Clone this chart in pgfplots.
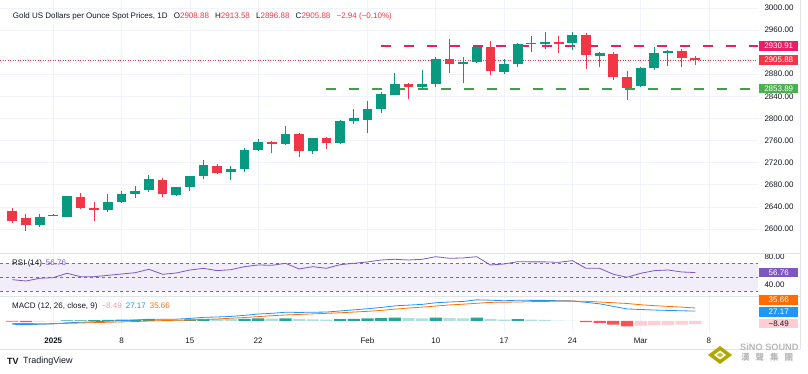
\documentclass[border=0pt]{standalone}
\usepackage{fontspec}
\setmainfont{Liberation Sans}
\newfontfamily\cjk{Noto Sans CJK TC}
\usepackage{pgfplots}
\usepackage{pgfplotstable}
\pgfplotsset{compat=1.18}
\definecolor{up}{HTML}{089981}
\definecolor{down}{HTML}{F23645}
\definecolor{txt}{HTML}{131722}
\definecolor{gridc}{HTML}{F0F3FA}
\definecolor{sepc}{HTML}{E0E3EB}
\definecolor{magc}{HTML}{E91E63}
\definecolor{grnc}{HTML}{4CAF50}
\definecolor{rsic}{HTML}{7E57C2}
\definecolor{rsiband}{HTML}{F2EEF9}
\definecolor{macdc}{HTML}{2196F3}
\definecolor{sigc}{HTML}{FF6D00}
\definecolor{hdt}{HTML}{26A69A}
\definecolor{hlt}{HTML}{B2DFDB}
\definecolor{hdr}{HTML}{FF5252}
\definecolor{hlr}{HTML}{FFCDD2}
\definecolor{hlrt}{HTML}{E8A3AB}

\pgfplotstableread{
i o h l c
2 2606.7 2627.1 2603.0 2622.2
3 2625.0 2626.5 2624.0 2625.8
4 2622.2 2660.0 2621.0 2659.2
7 2634.4 2663.3 2631.3 2649.4
8 2648.3 2669.3 2646.5 2662.8
9 2663.3 2677.8 2656.0 2668.7
10 2670.5 2697.1 2666.9 2689.9
12 2661.5 2676.0 2659.7 2675.4
13 2676.5 2696.5 2669.3 2695.9
14 2696.4 2724.8 2689.9 2715.2
16 2702.6 2714.0 2688.6 2708.5
17 2708.0 2746.0 2703.1 2742.9
18 2742.9 2763.4 2742.0 2756.8
20 2753.8 2786.3 2752.5 2771.3
22 2741.6 2765.0 2735.7 2764.1
24 2755.0 2797.0 2753.8 2795.9
25 2794.8 2817.0 2790.5 2800.8
26 2797.2 2831.0 2773.7 2816.5
27 2817.1 2847.3 2809.3 2844.8
28 2843.0 2882.8 2841.9 2862.8
30 2857.4 2887.6 2851.4 2861.8
31 2862.3 2911.7 2856.3 2908.0
33 2898.0 2910.6 2864.7 2902.1
34 2901.5 2931.0 2900.0 2929.2
36 2883.5 2907.5 2879.8 2898.5
37 2898.0 2936.5 2893.6 2934.1
38 2934.0 2949.1 2920.2 2936.5
39 2935.2 2956.4 2925.6 2938.3
41 2937.0 2956.9 2923.8 2951.0
43 2913.5 2919.6 2892.5 2917.8
46 2859.2 2893.6 2857.4 2890.7
47 2890.7 2928.7 2887.6 2917.8
48 2918.4 2923.8 2895.4 2922.5
}\updata

\pgfplotstableread{
i o h l c
0 2633.1 2637.2 2611.5 2614.5
1 2619.9 2627.1 2596.4 2607.2
5 2658.4 2664.6 2637.0 2638.0
6 2638.0 2648.8 2614.0 2634.4
11 2688.6 2692.3 2657.3 2662.8
15 2714.5 2717.6 2700.0 2700.8
19 2757.4 2758.6 2737.0 2754.3
21 2771.3 2773.1 2730.8 2741.6
23 2764.6 2766.0 2745.3 2755.6
29 2862.8 2864.0 2835.7 2857.4
32 2908.0 2943.7 2882.8 2898.5
35 2929.8 2940.0 2878.6 2885.8
40 2938.3 2949.7 2918.9 2935.2
42 2951.5 2954.0 2890.0 2914.2
44 2917.1 2920.7 2869.0 2874.4
45 2874.4 2886.4 2833.4 2855.0
49 2922.5 2926.2 2892.5 2909.9
50 2908.88 2913.58 2896.88 2905.88
}\downdata

\pgfplotstableread{
i rsi
0 46.6
1 44.7
2 48.6
3 49.5
4 55.7
5 50.9
6 50.9
7 52.8
8 54.7
9 56.6
10 61.4
11 54.3
12 56.1
13 60.4
14 62.8
15 59.5
16 60.9
17 65.2
18 67.6
19 67.1
20 70.0
21 61.9
22 65.2
23 62.8
24 68.0
25 70.0
26 71.9
27 74.7
28 75.7
29 74.7
30 75.7
31 79.4
32 77.1
33 77.6
34 79.4
35 67.6
36 69.0
37 72.3
38 72.0
39 72.0
40 71.4
41 73.8
42 62.8
43 62.8
44 54.3
45 50.0
46 55.7
47 59.5
48 60.4
49 57.6
50 56.76
}\rsidata

\pgfplotstableread{
i macd sig
0 -9 -7
1 -10 -7
2 -9 -7.5
3 -8 -7.2
4 -5 -6.5
5 -3.5 -5.5
6 -2 -4.5
7 -0.5 -3.5
8 1 -2.5
9 2.5 -1.5
10 5 0
11 4.5 1
12 5 2
13 7 2.5
14 10 4
15 11 5.5
16 12.5 7.5
17 15.5 9.5
18 19 12
19 21 14.5
20 24 16.5
21 23.5 18
22 24 19.5
23 24.5 21
24 27.5 22.5
25 30.5 24.5
26 33.5 26.5
27 37 29
28 41.5 32.5
29 43.5 35.5
30 45.5 38
31 50 41
32 52 44
33 53.5 46
34 58 48.5
35 57 51
36 55.5 51.5
37 57 52
38 56.5 53
39 56.5 53.5
40 55.5 54.5
41 55 54.5
42 51 54
43 47 52
44 40 50
45 33 48
46 31.5 44.5
47 30 42
48 29 40
49 28 38
50 27.17 35.66
}\macddata

\pgfplotsset{
  panel/.style={
    scale only axis, width=758pt, anchor=south west,
    xmin=-0.9, xmax=54.59,
    axis line style={draw=none},
    tick style={draw=none},
    xtick={3,8,13,18,26,31,36,41,46,51},
    xmajorgrids, major grid style={color=gridc, line width=0.7pt},
    ticklabel style={font=\fontsize{8}{9}\selectfont, text=txt},
    /pgf/number format/assume math mode=true,
    yticklabel pos=right,
    yticklabel style={xshift=3pt},
    yticklabel={\pgfmathprintnumber[fixed, fixed zerofill, precision=2, 1000 sep={}]{\tick}},
  },
  candle/.style 2 args={draw=none, mark=none, error bars/.cd, y dir=plus, y explicit, error mark=none,
    error bar style={line width=#1, color=#2, solid}},
}

\begin{document}
\begin{tikzpicture}
\useasboundingbox[fill=white] (0pt,0pt) rectangle (808pt,374pt);

% ---------- main price panel ----------
\begin{axis}[panel, at={(0pt,122pt)}, height=252pt,
  ymin=2558.4, ymax=3014.3,
  ytick={2600,2640,2680,2720,2760,2800,2840,2880,2960,3000},
  ymajorgrids, xticklabels={}]
  % last price dotted line
  \addplot[down, line width=0.7pt, dash pattern=on 1pt off 1.5pt] coordinates {(-0.9,2905.88) (54.59,2905.88)};
  % levels
  \addplot[magc, line width=1.8pt, dash pattern=on 10pt off 13pt] coordinates {(27,2930.91) (54.59,2930.91)};
  \addplot[grnc!90!black, line width=1.8pt, dash pattern=on 10pt off 13pt] coordinates {(23,2853.89) (54.59,2853.89)};
  % wicks
  \addplot[candle={1pt}{up}] table[x=i, y=l, y error plus expr={\thisrow{h}-\thisrow{l}}] {\updata};
  \addplot[candle={1pt}{down}] table[x=i, y=l, y error plus expr={\thisrow{h}-\thisrow{l}}] {\downdata};
  % bodies
  \addplot[candle={9.8pt}{up}] table[x=i, y=o, y error plus expr={\thisrow{c}-\thisrow{o}}] {\updata};
  \addplot[candle={9.8pt}{down}] table[x=i, y=c, y error plus expr={\thisrow{o}-\thisrow{c}}] {\downdata};
  \coordinate (lvlA) at (axis cs:54.59,2930.91);
  \coordinate (lvlB) at (axis cs:54.59,2905.88);
  \coordinate (lvlC) at (axis cs:54.59,2853.89);
\end{axis}

% ---------- RSI panel ----------
\begin{axis}[panel, at={(0pt,78pt)}, height=43pt,
  ymin=23.3, ymax=84.7, ytick={40,80}, xticklabels={}]
  \addplot[fill=rsiband, draw=none] coordinates {(-0.9,30) (54.59,30) (54.59,70) (-0.9,70)} -- cycle;
  \addplot[color=black!55, line width=0.6pt, dash pattern=on 3pt off 3pt] coordinates {(-0.9,70) (54.59,70)};
  \addplot[color=black!55, line width=0.6pt, dash pattern=on 3pt off 3pt] coordinates {(-0.9,50) (54.59,50)};
  \addplot[color=black!55, line width=0.6pt, dash pattern=on 3pt off 3pt] coordinates {(-0.9,30) (54.59,30)};
  \addplot[rsic, line width=0.8pt] table[x=i, y=rsi] {\rsidata};
  \coordinate (rsiL) at (axis cs:54.59,56.76);
\end{axis}

% ---------- MACD panel ----------
\begin{axis}[panel, at={(0pt,41pt)}, height=37pt,
  ymin=-32.9, ymax=68.5, ytick=\empty,
  xticklabels={\textbf{2025},8,15,22,Feb,10,17,24,Mar,8},
  xticklabel style={yshift=-1pt}]
  \addplot[ybar, bar width=12.2pt, bar shift=0pt, fill=hdt, draw=none] coordinates {
    (4,1.5) (5,2) (6,2.5) (7,3) (8,3.5) (9,4) (10,5) (13,4.5) (14,6) (17,6) (18,7) (20,7.5)
    (24,5) (25,6) (26,7) (27,8) (28,9) (31,9) (34,9.5) (37,5)};
  \addplot[ybar, bar width=12.2pt, bar shift=0pt, fill=hlt, draw=none] coordinates {
    (11,3.5) (12,3) (15,5.5) (16,5) (19,6.5) (21,5.5) (22,4.5) (23,3.5) (29,8) (30,7.5)
    (32,8) (33,7.5) (35,6) (36,4) (38,3.5) (39,3) (40,1) (41,0.5)};
  \addplot[ybar, bar width=12.2pt, bar shift=0pt, fill=hdr, draw=none] coordinates {
    (0,-2) (1,-3) (42,-3) (43,-5) (44,-10) (45,-15)};
  \addplot[ybar, bar width=12.2pt, bar shift=0pt, fill=hlr, draw=none] coordinates {
    (2,-1.5) (3,-0.8) (46,-13) (47,-12) (48,-11) (49,-10) (50,-8.49)};
  \addplot[macdc, line width=0.8pt] table[x=i, y=macd] {\macddata};
  \addplot[sigc, line width=0.8pt] table[x=i, y=sig] {\macddata};
\end{axis}

% separators
\draw[sepc, line width=0.7pt] (0pt,121pt) -- (800pt,121pt);
\draw[sepc, line width=0.7pt] (0pt,78pt) -- (800pt,78pt);
\draw[sepc, line width=0.7pt] (0pt,25pt) -- (800pt,25pt);
\draw[sepc, line width=0.7pt] (800pt,25pt) -- (800pt,374pt);

% price scale boxes
\tikzset{pbox/.style={anchor=west, inner sep=0pt, minimum width=39pt, minimum height=9.5pt,
  font=\fontsize{8}{9}\selectfont, text=white}}
\node[pbox, fill=magc] at ([xshift=1pt]lvlA) {2930.91};
\node[pbox, fill=down] at ([xshift=1pt]lvlB) {2905.88};
\node[pbox, fill=grnc] at ([xshift=1pt]lvlC) {2853.89};
\node[pbox, fill=rsic] at ([xshift=1pt]rsiL) {56.76};
\node[pbox, fill=sigc] at (759pt,374pt-300pt) {35.66};
\node[pbox, fill=macdc] at (759pt,374pt-312pt) {27.17};
\node[pbox, fill=hlr, text=txt] at (759pt,374pt-323.6pt) {−8.49};

% title
\node[anchor=west, inner sep=0pt, font=\fontsize{8}{9}\selectfont, text=txt] at (12.7pt,374pt-16.7pt)
  {Gold US Dollars per Ounce Spot Prices, 1D\hspace{4pt} O\textcolor{down}{2908.88}\hspace{4pt} H\textcolor{down}{2913.58}\hspace{4pt} L\textcolor{down}{2896.88}\hspace{4pt} C\textcolor{down}{2905.88}\hspace{4pt} \textcolor{down}{−2.94 (−0.10\%)}};
% indicator labels
\node[anchor=west, inner sep=0pt, font=\fontsize{8}{9}\selectfont, text=txt] at (12pt,374pt-263.3pt)
  {RSI (14)\hspace{4pt}\textcolor{rsic}{56.76}};
\node[anchor=west, inner sep=0pt, font=\fontsize{8}{9}\selectfont, text=txt] at (12pt,374pt-306.7pt)
  {MACD (12, 26, close, 9)\hspace{4pt}\textcolor{hlrt}{−8.49}\hspace{4pt}\textcolor{macdc}{27.17}\hspace{4pt}\textcolor{sigc}{35.66}};

% TradingView logo
\node[anchor=west, inner sep=0pt, font=\fontsize{9}{10}\selectfont\bfseries, text=txt] at (7pt,13pt) {TV};
\node[anchor=west, inner sep=0pt, font=\fontsize{9}{10}\selectfont, text=txt] at (23pt,13pt) {TradingView};

% watermark
\fill[olive!70!yellow] (720pt,374pt-346pt) -- (732pt,374pt-355pt) -- (720pt,374pt-364pt) -- (708pt,374pt-355pt) -- cycle;
\fill[white] (720pt,374pt-350.5pt) -- (726pt,374pt-355pt) -- (720pt,374pt-359.5pt) -- (714pt,374pt-355pt) -- cycle;
\fill[olive!60!yellow!80] (720pt,374pt-352.5pt) -- (723.3pt,374pt-355pt) -- (720pt,374pt-357.5pt) -- (716.7pt,374pt-355pt) -- cycle;
\node[anchor=west, inner sep=0pt, font=\fontsize{9.2}{10}\selectfont\bfseries, text=black!28] at (740pt,374pt-347.7pt) {SiNO SOUND};
\node[anchor=west, inner sep=0pt, font=\cjk\fontsize{8.5}{9}\selectfont\bfseries, text=black!28] at (741pt,374pt-357.5pt) {漢\hspace{6pt}聲\hspace{6pt}集\hspace{6pt}團};
\end{tikzpicture}
\end{document}
